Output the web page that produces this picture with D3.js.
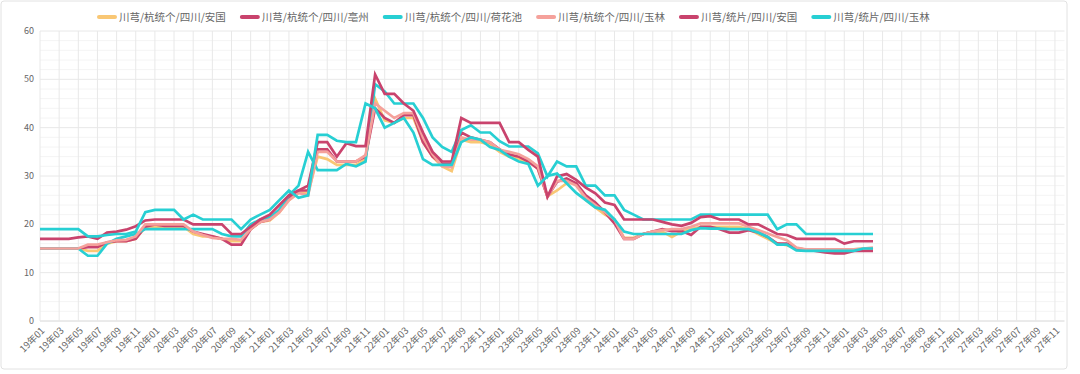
<!DOCTYPE html>
<html>
<head>
<meta charset="utf-8">
<script src="https://cdn.jsdelivr.net/npm/d3@7"></script>
<style>
  body { margin: 0; background: #fff; }
  #chart { width: 1080px; height: 374px; }
  text { font-family: "Noto Sans CJK SC", "Noto Sans", sans-serif; }
</style>
</head>
<body>
<div id="chart"></div>
<script>
// x categories: 19年01 .. 27年12
var years = ["19", "20", "21", "22", "23", "24", "25", "26", "27"];
var months = ["01", "02", "03", "04", "05", "06", "07", "08", "09", "10", "11", "12"];
var yTicks = [0, 10, 20, 30, 40, 50, 60];

var seriesNames = [
  "川芎/杭统个/四川/安国",
  "川芎/杭统个/四川/亳州",
  "川芎/杭统个/四川/荷花池",
  "川芎/杭统个/四川/玉林",
  "川芎/统片/四川/安国",
  "川芎/统片/四川/玉林"
];
var seriesColors = ["#f9c774", "#c9436d", "#27cfd3", "#f5a19b", "#c9436d", "#27cfd3"];

// monthly prices from 19年01 to 26年04
var anguoGe = [
  15,15,15,15,15,14.5,14.5,16,16.5,16.5,17,19.5,
  19.5,19.5,19.5,19.5,18,17.5,17.5,17,16.5,16.5,19,20.5,
  20.8,22.5,25,26.5,26.5,34,33.5,32.3,32.3,32.3,33.5,46,
  41.5,41,42,42,37,34,32,31,37.5,37,37,36.5,
  35,34,33.5,33,31.5,25.8,27,28.5,28.5,25,23.5,22,
  21,17.2,17.2,18,18.5,18.5,17.4,18.5,19,19.5,19.5,19.5,
  19.5,19.5,19,18,17,16,15.7,15,14.8,14.8,14.8,14.8,
  14.8,14.8,15,15
];
var bozhouGe = [
  15,15,15,15,15,15.3,15.3,16.3,16.5,16.5,17,19.5,
  20,19.7,19.7,19.7,18.5,18,17.5,17,15.8,15.8,19,20.5,
  21,23,25.5,27,27,35.5,35.5,33,33,33,34,44,
  42,41,42.6,42.6,37,34,32.5,32.5,39,38,37.5,37,
  35.5,34.5,34,33,31.5,25.7,28.8,29.5,28.5,26,24.5,22.5,
  20.2,17,17,18,18.5,19,18.6,18.6,17.8,19.5,19.5,19,
  18.3,18.3,18.8,18.3,17.4,16,16,15,14.8,14.5,14.2,14,
  14,14.5,14.5,14.5
];
var hehuachiGe = [
  15,15,15,15,15,13.5,13.5,16,17,17.5,18,19,
  19,19,19,19,19,19,19,18,17.5,17.5,20,21,
  21.5,23,26,28,35,31.2,31.2,31.2,32.5,32,33,49,
  47.5,45,45,45,42,38,36,35,39.5,40.5,39,39,
  37.2,36.1,36.1,36.1,34.7,29.9,33,32,32,28,28,26,
  26,23,22,21,21,21,21,21,21,22,22,22,
  22,22,22,22,22,19,20,20,18,18,18,18,
  18,18,18,18
];
var yulinGe = [
  15,15,15,15,15,15.8,15.8,16.3,16.7,16.8,17.5,20,
  20,20,20,20,18.5,17.8,17.2,17,17,16.8,19,20.5,
  21,22.5,25,26.5,26,35,35,33,33,33,34.3,45,
  43.5,42,43,43,38,34.5,32,31.8,38,37.5,37.5,37,
  35.4,35,34.5,33.5,32,25.7,29,29,28,25.5,24,22.5,
  21,17,17,18,18.5,18.8,19,19,19.5,20.2,20.2,20.2,
  20.2,20.2,19.5,18.8,18.1,17.4,16.7,15.2,14.8,14.8,14.8,14.8,
  14.8,14.8,15,15.2
];
var anguoPian = [
  17,17,17,17,17.3,17.5,17,18.3,18.5,18.9,19.6,20.8,
  21,21,21,21,20,20,20,20,18,18,19.5,21,
  22,24,26,27,28,37,37,34,36.8,36.2,36.2,51,
  47,47,45,43.5,39,35,33,33,42,41,41,41,
  41,37,37,35.4,34,25.7,29.9,30.4,29.2,27.6,26.4,24.5,
  24,21,21,21,21,20.5,20,19.7,20.3,21.5,21.7,21,
  21,21,20,20,19,18,17.8,17,17,17,17,17,
  16,16.5,16.5,16.5
];
var yulinPian = [
  19,19,19,19,19,17.5,17.5,17.8,18,18,18.5,22.5,
  23,23,23,21,22,21,21,21,21,19,21,22,
  23,25,27,25.5,26,38.5,38.5,37.3,37,37,45,44,
  40,41,42,39,33.5,32.3,32.3,32.3,37,38,37.5,36,
  35.4,34,33,32.5,28,30,30.5,28.5,26.5,25,23.5,23,
  21,18.5,18,18,18,18,18,18,18.8,19.2,19.1,19.1,
  19,19,19,18.3,17.4,15.8,15.8,14.6,14.5,14.5,14.5,14.5,
  14.5,14.5,15,15
];
var allSeries = [anguoGe, bozhouGe, hehuachiGe, yulinGe, anguoPian, yulinPian];

function drawChart(){
  var categories = [];
  years.forEach(function(yy){
    months.forEach(function(mm){ categories.push(yy + "年" + mm); });
  });

  var W = 1080, H = 374;
  var gLeft = 40, gRight = 1064.5, gTop = 31, gBottom = 321;

  var svg = d3.select("#chart").append("svg")
      .attr("width", W)
      .attr("height", H);

  // outer frame
  svg.append("rect")
      .attr("x", 1).attr("y", 1)
      .attr("width", 1066).attr("height", 368)
      .attr("rx", 3)
      .attr("fill", "#fff")
      .attr("stroke", "#e2e2e2");

  var x = d3.scalePoint().domain(categories).range([gLeft, gRight]);
  var y = d3.scaleLinear().domain([0, 60]).range([gBottom, gTop]);

  // minor horizontal grid
  var minor = d3.range(0, 61, 2).filter(function(v){ return v % 10 != 0; });
  svg.append("g").selectAll("line")
      .data(minor)
    .enter().append("line")
      .attr("x1", gLeft).attr("x2", gRight)
      .attr("y1", function(d){ return y(d); })
      .attr("y2", function(d){ return y(d); })
      .attr("stroke", "#f4f4f4");

  // major horizontal grid
  svg.append("g").selectAll("line")
      .data(yTicks)
    .enter().append("line")
      .attr("x1", gLeft).attr("x2", gRight)
      .attr("y1", function(d){ return y(d); })
      .attr("y2", function(d){ return y(d); })
      .attr("stroke", function(d){ return d == 0 ? "#d6d6d6" : "#e8e8e8"; });

  // vertical grid every 2 months
  var xTicks = categories.filter(function(c, i){ return i % 2 == 0; });
  svg.append("g").selectAll("line")
      .data(xTicks)
    .enter().append("line")
      .attr("x1", function(d){ return x(d); })
      .attr("x2", function(d){ return x(d); })
      .attr("y1", gTop).attr("y2", gBottom)
      .attr("stroke", "#e8e8e8");

  // y labels
  svg.append("g").selectAll("text")
      .data(yTicks)
    .enter().append("text")
      .attr("x", gLeft - 6)
      .attr("y", function(d){ return y(d); })
      .attr("dy", "0.35em")
      .attr("text-anchor", "end")
      .attr("font-size", 9)
      .attr("fill", "#666")
      .text(function(d){ return d; });

  // x labels, rotated
  svg.append("g").selectAll("text")
      .data(xTicks)
    .enter().append("text")
      .attr("transform", function(d){ return "translate(" + (x(d) + 3) + "," + (gBottom + 8) + ") rotate(-45)"; })
      .attr("dy", "0.35em")
      .attr("text-anchor", "end")
      .attr("font-size", 9.5)
      .attr("fill", "#666")
      .text(function(d){ return d; });

  var line = d3.line()
      .x(function(d, i){ return x(categories[i]); })
      .y(function(d){ return y(d); });

  svg.append("g").selectAll("path")
      .data(allSeries)
    .enter().append("path")
      .attr("d", function(d){ return line(d); })
      .attr("fill", "none")
      .attr("stroke", function(d, i){ return seriesColors[i]; })
      .attr("stroke-width", 2.7)
      .attr("stroke-linejoin", "miter");

  // legend
  var legend = svg.append("g").attr("transform", "translate(0,17)");
  var lx = 97;
  seriesNames.forEach(function(name, i){
    legend.append("line")
        .attr("x1", lx + 2).attr("x2", lx + 18)
        .attr("y1", 0).attr("y2", 0)
        .attr("stroke", seriesColors[i])
        .attr("stroke-width", 4)
        .attr("stroke-linecap", "round");
    var t = legend.append("text")
        .attr("x", lx + 22)
        .attr("dy", "0.35em")
        .attr("font-size", 10.5)
        .attr("fill", "#666")
        .text(name);
    lx += 22 + t.node().getComputedTextLength() + 14;
  });
}

drawChart();
</script>
</body>
</html>
